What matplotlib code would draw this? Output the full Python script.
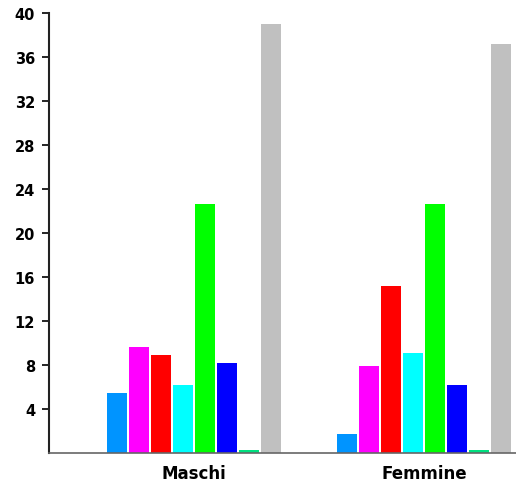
import matplotlib
matplotlib.use('Agg')
import matplotlib.pyplot as plt
import numpy as np

groups = ['Maschi', 'Femmine']
bar_colors = ['#0094ff', '#ff00ff', '#ff0000', '#00ffff', '#00ff00',
              '#0000ff', '#00e080', '#c0c0c0']
# percentages per category, one list per group
maschi = [5.5, 9.6, 8.9, 6.2, 22.6, 8.2, 0.3, 39.0]
femmine = [1.75, 7.9, 15.2, 9.05, 22.6, 6.2, 0.3, 37.15]
y_ticks = [4, 8, 12, 16, 20, 24, 28, 32, 36, 40]

plt.rcParams['font.family'] = ['DejaVu Sans']

fig = plt.figure(figsize=(5.16, 4.85), dpi=100)
ax = fig.add_axes([49 / 516, 31 / 485, 1 - 49 / 516, 440 / 485])

width = 22 / 230
centers = np.arange(len(groups))
values = np.array([maschi, femmine])
for k, color in enumerate(bar_colors):
    ax.bar(centers + (k - 3.5) * width, values[:, k], width=width * 0.94,
           color=color, edgecolor='none', zorder=1)

ax.set_xlim(-145 / 230, 322 / 230)
ax.set_ylim(0, 40)
ax.set_yticks(y_ticks)
ax.set_yticklabels([str(t) for t in y_ticks], fontsize=10.5, fontweight='bold')
ax.set_xticks(centers)
ax.set_xticklabels(groups, fontsize=12, fontweight='bold')
ax.tick_params(axis='x', length=0, pad=8)
ax.tick_params(axis='y', length=5, width=1.2, direction='out', pad=5)

ax.spines['top'].set_visible(False)
ax.spines['right'].set_visible(False)
ax.spines['left'].set_linewidth(1.5)
ax.spines['left'].set_color('#222222')
ax.spines['bottom'].set_linewidth(1.2)
ax.spines['bottom'].set_color('#666666')

fig.savefig('out.png', dpi=100)
plt.close(fig)
